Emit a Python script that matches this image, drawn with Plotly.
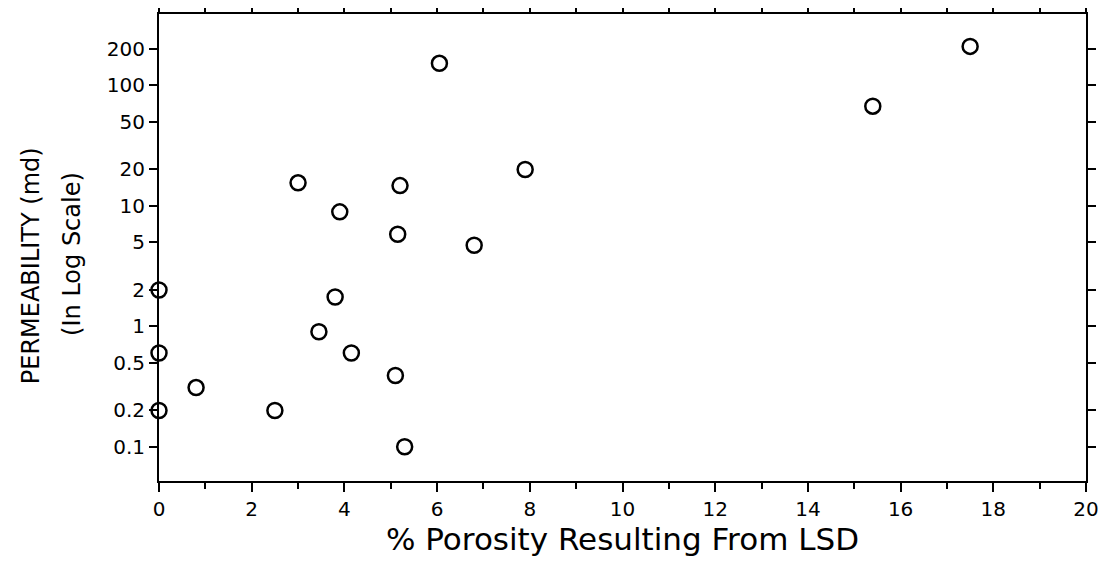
import plotly.graph_objects as go

# Data
porosity_lsd = [0.0, 0.0, 0.0, 0.8, 2.5, 3.45, 3.8, 4.15, 5.1, 5.3,
                3.0, 3.9, 5.2, 5.15, 6.05, 6.8, 7.9, 15.4, 17.5]
permeability_md = [2.0, 0.6, 0.2, 0.31, 0.2, 0.9, 1.75, 0.6, 0.39, 0.1,
                   15.5, 8.9, 14.7, 5.8, 152, 4.7, 20, 67, 210]

y_tickvals = [0.1, 0.2, 0.5, 1, 2, 5, 10, 20, 50, 100, 200]
y_ticktext = ["0.1", "0.2", "0.5", "1", "2", "5", "10", "20", "50", "100", "200"]
x_tickvals = [0, 2, 4, 6, 8, 10, 12, 14, 16, 18, 20]

x_title = "% Porosity Resulting From LSD"
y_title_1 = "PERMEABILITY (md)"
y_title_2 = "(In Log Scale)"

FONT = "DejaVu Sans"

fig = go.Figure()
fig.add_trace(go.Scatter(
    x=porosity_lsd, y=permeability_md, mode="markers",
    marker=dict(symbol="circle-open", size=15, color="black",
                line=dict(width=2.5, color="black")),
    cliponaxis=False, showlegend=False,
))

fig.update_layout(
    template="none",
    width=1109, height=559, autosize=False,
    margin=dict(l=151, r=31, t=6, b=86, autoexpand=False),
    paper_bgcolor="white", plot_bgcolor="white",
    font=dict(family=FONT, color="black"),
    xaxis=dict(
        range=[0, 20], tickvals=x_tickvals, ticktext=[str(v) for v in x_tickvals],
        showgrid=False, zeroline=False, automargin=False,
        showline=True, linecolor="black", linewidth=2, mirror="ticks",
        ticks="outside", ticklen=9, tickwidth=2, tickcolor="black",
        minor=dict(dtick=1, ticks="outside", ticklen=6, tickwidth=2,
                   tickcolor="black", showgrid=False),
        tickfont=dict(family=FONT, size=20, color="black"),
        title=dict(text=x_title, font=dict(family=FONT, size=31, color="black"),
                   standoff=5),
    ),
    yaxis=dict(
        type="log", range=[-1.284, 2.591],
        tickvals=y_tickvals, ticktext=y_ticktext,
        showgrid=False, zeroline=False, automargin=False,
        showline=True, linecolor="black", linewidth=2, mirror="ticks",
        ticks="outside", ticklen=8, tickwidth=2, tickcolor="black",
        tickfont=dict(family=FONT, size=20, color="black"),
    ),
    annotations=[
        dict(text=y_title_1, xref="paper", yref="paper",
             x=-0.138, y=0.460, xanchor="center", yanchor="middle",
             textangle=-90, showarrow=False,
             font=dict(family=FONT, size=24, color="black")),
        dict(text=y_title_2, xref="paper", yref="paper",
             x=-0.094, y=0.486, xanchor="center", yanchor="middle",
             textangle=-90, showarrow=False,
             font=dict(family=FONT, size=24, color="black")),
    ],
)

fig.write_html("out.html")
